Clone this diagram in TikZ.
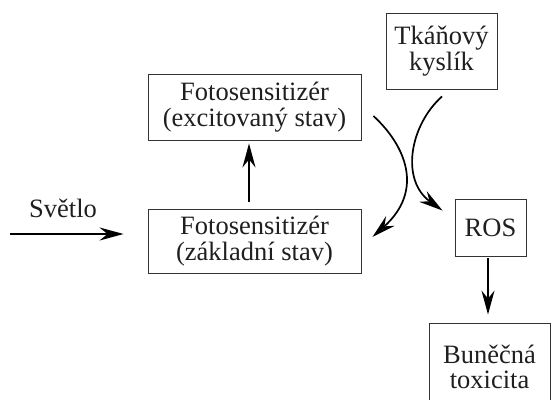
\documentclass[tikz,border=0pt]{standalone}
\usepackage{fontspec}
\setmainfont{Liberation Serif}
\usetikzlibrary{arrows.meta}

\begin{document}
\begin{tikzpicture}[x = 1pt, y = -1pt,
	 box/.style = {draw = black!80, line width = 0.9pt, align = center, inner sep = 0pt, text = black!88, font = \fontsize{26.5}{25.5}\selectfont},
	 arr/.style = {line width = 1.7pt, -{Stealth[length = 24pt, width = 13pt, inset = 8pt]}}]
	 \useasboundingbox (0, 0) rectangle (551, 399);
	 
	 \node[box, minimum width = 111, minimum height = 76] (oxy) at (441.5, 51) {Tkáňový\\kyslík};
	 \node[box, minimum width = 213, minimum height = 66] (exc) at (254.5, 107) {Fotosensitizér\\(excitovaný stav)};
	 \node[box, minimum width = 213, minimum height = 64] (gnd) at (254.5, 241) {Fotosensitizér\\(základní stav)};
	 \node[box, minimum width = 71, minimum height = 57] (ros) at (490.5, 227.5) {ROS};
	 \node[box, minimum width = 121, minimum height = 88] (tox) at (489.5, 367) {Buněčná\\toxicita};
	 
	 \node[text = black!88, font = \fontsize{26.5}{25.5}\selectfont] (lbl) at (63, 208) {Světlo};
	 \coordinate (light) at (10, 234);
	 
	 \draw[arr, shorten > = 24pt] (light) -- (light -| gnd.west);
	 \draw[arr, shorten < = 7pt, shorten > = 3pt] ([xshift = -5.5pt]gnd.north) -- ([xshift = -5.5pt]exc.south);
	 \draw[arr, shorten < = 2pt, shorten > = 8pt] ([xshift = -2.5pt]ros.south) -- ([xshift = -1.5pt]tox.north);
	 
	 \draw[arr] ([shift = {(12, 9)}]exc.east) .. controls (405, 145) and (425, 190) .. ([shift = {(11, -4)}]gnd.east);
	 \draw[arr] ([shift = {(0.5, 7)}]oxy.south) .. controls (410, 125) and (400, 180) .. ([shift = {(-12, 12)}]ros.north west);
\end{tikzpicture}
\end{document}
